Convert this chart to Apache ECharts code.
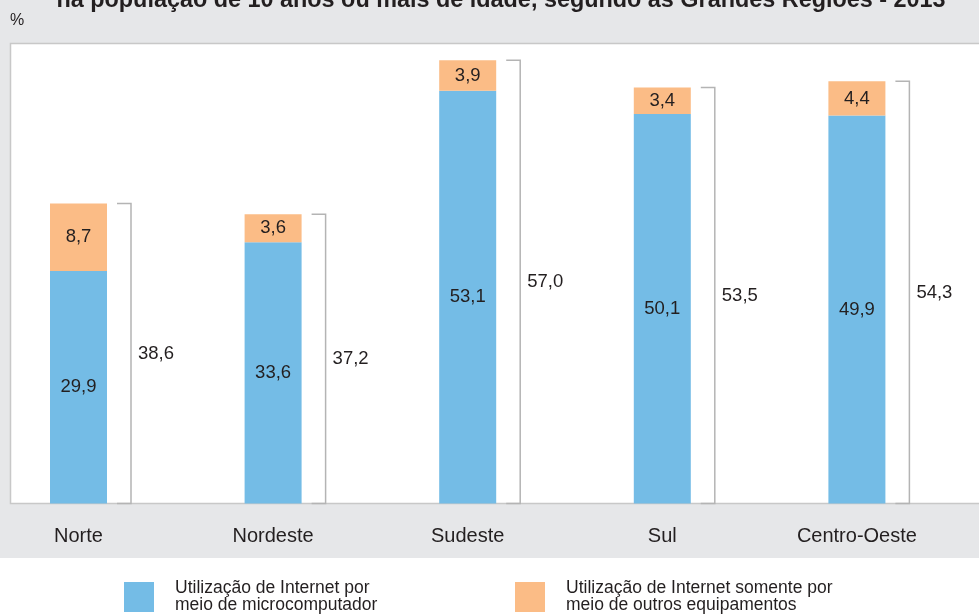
<!DOCTYPE html>
<html>
<head>
<meta charset="utf-8">
<title>Utilização de Internet - Grandes Regiões 2013</title>
<script src="https://cdn.jsdelivr.net/npm/echarts@6/dist/echarts.min.js"></script>
<style>
  html, body { margin: 0; padding: 0; background: #fff; }
  #chart { width: 979px; height: 615px; }
</style>
</head>
<body>
<div id="chart"></div>
<script>
// dados (%)
var categories = ['Norte', 'Nordeste', 'Sudeste', 'Sul', 'Centro-Oeste'];
var microValues = [29.9, 33.6, 53.1, 50.1, 49.9];
var otherValues = [8.7, 3.6, 3.9, 3.4, 4.4];
var totalValues = [38.6, 37.2, 57.0, 53.5, 54.3];

var NAME_MICRO = 'Utilização de Internet por\nmeio de microcomputador';
var NAME_OTHER = 'Utilização de Internet somente por\nmeio de outros equipamentos';

var FONT = '"Liberation Sans", Arial, Helvetica, sans-serif';
var TEXT_COLOR = '#231f20';

const fmt = (v) => Number(v).toFixed(1).replace('.', ',');

function renderBracket(params, api) {
    const top = api.coord([api.value(0), api.value(1)]);
    const base = api.coord([api.value(0), 0]);
    const cx = top[0];
    const x0 = cx + 38.5, x1 = cx + 52.5;
    return {
        type: 'group',
        children: [{
            type: 'polyline',
            shape: { points: [[x0, top[1]], [x1, top[1]], [x1, base[1]], [x0, base[1]]] },
            style: { stroke: '#b4b4b4', lineWidth: 1.5, fill: null }
        }, {
            type: 'text',
            x: x1 + 7,
            y: (top[1] + base[1]) / 2,
            style: {
                text: fmt(api.value(1)),
                fill: TEXT_COLOR,
                fontSize: 18.5,
                fontFamily: FONT,
                align: 'left',
                verticalAlign: 'middle'
            }
        }]
    };
}

const legendBase = (name, left) => ({
    data: [name],
    left: left,
    top: 576,
    padding: 0,
    icon: 'rect',
    itemWidth: 30,
    itemHeight: 30,
    selectedMode: false,
    textStyle: {
        color: TEXT_COLOR,
        fontSize: 17.5,
        lineHeight: 17,
        fontFamily: FONT,
        padding: [0, 0, 8, 16]
    }
});

const chart = echarts.init(document.getElementById('chart'));
chart.setOption({
    backgroundColor: '#ffffff',
    animation: false,
    title: {
        text: 'na população de 10 anos ou mais de idade, segundo as Grandes Regiões - 2013',
        left: 496,
        textAlign: 'center',
        top: -15.5,
        textStyle: { fontSize: 23.4, fontWeight: 'bold', color: TEXT_COLOR, fontFamily: FONT }
    },
    graphic: [{
        type: 'rect',
        z: -100,
        shape: { x: 0, y: 0, width: 979, height: 558 },
        style: { fill: '#e6e7e9' }
    }, {
        type: 'rect',
        z: -90,
        shape: { x: 10.5, y: 43.5, width: 980, height: 460 },
        style: { fill: '#ffffff', stroke: '#c8c8c8', lineWidth: 1.5 }
    }, {
        type: 'text',
        x: 10,
        y: 13,
        style: { text: '%', fill: TEXT_COLOR, fontSize: 16, fontFamily: FONT }
    }],
    legend: [legendBase(NAME_MICRO, 124), legendBase(NAME_OTHER, 515)],
    grid: { left: -18.8, right: 24.8, top: 44, bottom: 111.5, outerBoundsMode: 'none' },
    xAxis: {
        type: 'category',
        data: categories,
        axisLine: { show: false },
        axisTick: { show: false },
        axisLabel: { color: TEXT_COLOR, fontSize: 20, fontFamily: FONT, margin: 23 }
    },
    yAxis: {
        type: 'value',
        min: 0,
        max: 59.1,
        show: false,
        splitLine: { show: false }
    },
    series: [{
        name: NAME_MICRO,
        type: 'bar',
        stack: 'total',
        barWidth: 57,
        data: microValues,
        itemStyle: { color: '#74bce6' },
        label: {
            show: true,
            position: 'inside',
            color: TEXT_COLOR,
            fontSize: 18.5,
            fontFamily: FONT,
            formatter: (p) => fmt(p.value)
        }
    }, {
        name: NAME_OTHER,
        type: 'bar',
        stack: 'total',
        barWidth: 57,
        data: otherValues,
        itemStyle: { color: '#fbbc86' },
        label: {
            show: true,
            position: 'inside',
            color: TEXT_COLOR,
            fontSize: 18.5,
            fontFamily: FONT,
            formatter: (p) => fmt(p.value)
        }
    }, {
        name: 'Total',
        type: 'custom',
        renderItem: renderBracket,
        data: totalValues.map((v, i) => [i, v]),
        encode: { x: 0, y: 1 },
        silent: true
    }]
});
</script>
</body>
</html>
